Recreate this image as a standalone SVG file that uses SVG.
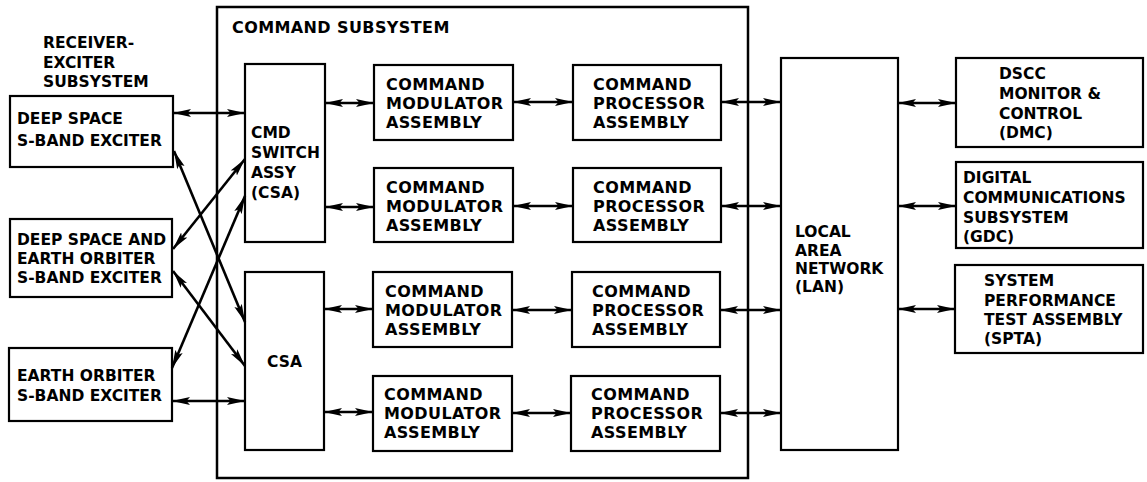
<svg xmlns="http://www.w3.org/2000/svg" width="1147" height="482" viewBox="0 0 1147 482">
<style>
  .box { fill: #fff; stroke: #000; stroke-width: 2.2; }
  .outer { fill: none; stroke: #000; stroke-width: 2.5; }
  text { font-family: "DejaVu Sans", "Liberation Sans", sans-serif; font-weight: bold; font-size: 15.5px; fill: #000; }
  .mid text { font-size: 16px; letter-spacing: 0.4px; }
  .conn line { stroke: #000; stroke-width: 2.6; marker-start: url(#ah); marker-end: url(#ah); }
</style>
<defs>
  <marker id="ah" viewBox="0 0 18 9" refX="18" refY="4.5" markerWidth="18" markerHeight="9" markerUnits="userSpaceOnUse" orient="auto-start-reverse">
    <path d="M0,0.5 L18,4.5 L0,8.5 L3.5,4.5 z" fill="#000"/>
  </marker>
</defs>
<rect width="1147" height="482" fill="#fff"/>

<g id="command-subsystem">
  <rect class="outer" x="217" y="7" width="531" height="471"/>
  <text x="232" y="33" style="font-size:16px;letter-spacing:0.4px">COMMAND SUBSYSTEM</text>
</g>

<g id="receiver-exciter-label">
  <text x="43" y="48">RECEIVER-</text>
  <text x="43" y="68">EXCITER</text>
  <text x="43" y="87">SUBSYSTEM</text>
</g>

<g id="ds-exciter">
  <rect class="box" x="10" y="96" width="163" height="71"/>
  <text x="17" y="124">DEEP SPACE</text>
  <text x="17" y="146">S-BAND EXCITER</text>
</g>
<g id="dseo-exciter">
  <rect class="box" x="10" y="219" width="162" height="78"/>
  <text x="17" y="245">DEEP SPACE AND</text>
  <text x="17" y="264">EARTH ORBITER</text>
  <text x="17" y="283">S-BAND EXCITER</text>
</g>
<g id="eo-exciter">
  <rect class="box" x="9" y="348" width="163" height="73"/>
  <text x="17" y="381">EARTH ORBITER</text>
  <text x="17" y="401">S-BAND EXCITER</text>
</g>

<g id="cmd-switch">
  <rect class="box" x="245" y="64" width="80" height="178"/>
  <text x="251" y="138">CMD</text>
  <text x="251" y="158">SWITCH</text>
  <text x="251" y="178">ASSY</text>
  <text x="251" y="198">(CSA)</text>
</g>
<g id="csa">
  <rect class="box" x="245" y="272" width="79" height="178"/>
  <text x="284.5" y="367" text-anchor="middle">CSA</text>
</g>

<g class="mid">
<g id="cma1">
  <rect class="box" x="374" y="65" width="139" height="75"/>
  <text x="386" y="90">COMMAND</text>
  <text x="386" y="109">MODULATOR</text>
  <text x="386" y="128">ASSEMBLY</text>
</g>
<g id="cma2">
  <rect class="box" x="374" y="168" width="139" height="74"/>
  <text x="386" y="193">COMMAND</text>
  <text x="386" y="212">MODULATOR</text>
  <text x="386" y="231">ASSEMBLY</text>
</g>
<g id="cma3">
  <rect class="box" x="373" y="272" width="139" height="75"/>
  <text x="385" y="297">COMMAND</text>
  <text x="385" y="316">MODULATOR</text>
  <text x="385" y="335">ASSEMBLY</text>
</g>
<g id="cma4">
  <rect class="box" x="373" y="376" width="139" height="75"/>
  <text x="384" y="400">COMMAND</text>
  <text x="384" y="419">MODULATOR</text>
  <text x="384" y="438">ASSEMBLY</text>
</g>

<g id="cpa1">
  <rect class="box" x="573" y="65" width="148" height="75"/>
  <text x="593" y="90">COMMAND</text>
  <text x="593" y="109">PROCESSOR</text>
  <text x="593" y="128">ASSEMBLY</text>
</g>
<g id="cpa2">
  <rect class="box" x="573" y="168" width="148" height="74"/>
  <text x="593" y="193">COMMAND</text>
  <text x="593" y="212">PROCESSOR</text>
  <text x="593" y="231">ASSEMBLY</text>
</g>
<g id="cpa3">
  <rect class="box" x="572" y="272" width="148" height="75"/>
  <text x="592" y="297">COMMAND</text>
  <text x="592" y="316">PROCESSOR</text>
  <text x="592" y="335">ASSEMBLY</text>
</g>
<g id="cpa4">
  <rect class="box" x="571" y="376" width="149" height="75"/>
  <text x="591" y="400">COMMAND</text>
  <text x="591" y="419">PROCESSOR</text>
  <text x="591" y="438">ASSEMBLY</text>
</g>
</g>

<g id="lan">
  <rect class="box" x="781" y="58" width="117" height="392"/>
  <text x="795" y="237">LOCAL</text>
  <text x="795" y="256">AREA</text>
  <text x="795" y="274">NETWORK</text>
  <text x="795" y="292">(LAN)</text>
</g>

<g id="dmc">
  <rect class="box" x="956" y="58" width="187" height="89"/>
  <text x="999" y="79">DSCC</text>
  <text x="999" y="99">MONITOR &amp;</text>
  <text x="999" y="119">CONTROL</text>
  <text x="999" y="138">(DMC)</text>
</g>
<g id="gdc">
  <rect class="box" x="956" y="162" width="187" height="86"/>
  <text x="963" y="183">DIGITAL</text>
  <text x="963" y="203">COMMUNICATIONS</text>
  <text x="963" y="223">SUBSYSTEM</text>
  <text x="963" y="242">(GDC)</text>
</g>
<g id="spta">
  <rect class="box" x="955" y="265" width="188" height="88"/>
  <text x="984" y="286">SYSTEM</text>
  <text x="984" y="306">PERFORMANCE</text>
  <text x="984" y="325">TEST ASSEMBLY</text>
  <text x="984" y="344">(SPTA)</text>
</g>

<g id="connectors" class="conn">
  <line x1="173" y1="113" x2="245" y2="113"/>
  <line x1="172" y1="401" x2="245" y2="401"/>
  <line x1="174" y1="151" x2="245" y2="322"/>
  <line x1="173" y1="271" x2="245" y2="366"/>
  <line x1="173" y1="249" x2="245" y2="159"/>
  <line x1="172" y1="368" x2="245" y2="196"/>

  <line x1="325" y1="103" x2="374" y2="103"/>
  <line x1="325" y1="207" x2="374" y2="207"/>
  <line x1="324" y1="309" x2="373" y2="309"/>
  <line x1="324" y1="412" x2="373" y2="412"/>

  <line x1="513" y1="102" x2="573" y2="102"/>
  <line x1="513" y1="206" x2="573" y2="206"/>
  <line x1="512" y1="310" x2="572" y2="310"/>
  <line x1="512" y1="413" x2="571" y2="413"/>

  <line x1="721" y1="102" x2="781" y2="102"/>
  <line x1="721" y1="206" x2="781" y2="206"/>
  <line x1="720" y1="310" x2="781" y2="310"/>
  <line x1="720" y1="413" x2="781" y2="413"/>

  <line x1="898" y1="103" x2="956" y2="103"/>
  <line x1="898" y1="206" x2="956" y2="206"/>
  <line x1="898" y1="309" x2="955" y2="309"/>
</g>
</svg>
